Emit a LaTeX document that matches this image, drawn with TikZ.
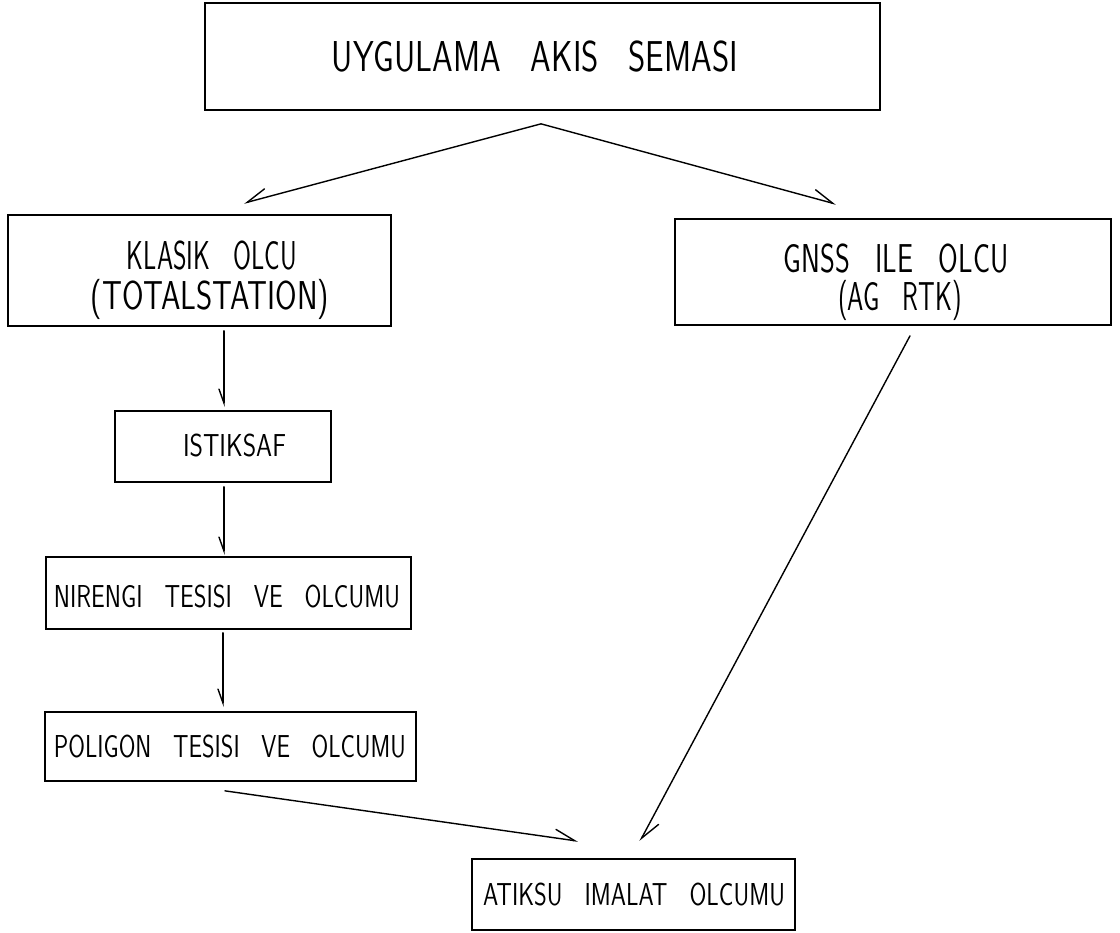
\documentclass[tikz,border=0pt]{standalone}
\usepackage{fontspec}
\usepackage{graphicx}
\usetikzlibrary{arrows.meta}
\newcommand\cadtxt[3]{\resizebox{#1pt}{\height}{\fontsize{#2pt}{#2pt}\selectfont\sffamily #3}}
\newcommand\wg{\hspace{0.9em}}
\begin{document}
\begin{tikzpicture}[x=1pt,y=-1pt,
  box/.style={draw,line width=1.7pt,inner sep=0pt},
  lbl/.style={anchor=base,inner sep=0pt},
  arr/.style={line width=1.4pt,line cap=round},
  bigL/.style={-{Straight Barb[left,length=20pt,width=17pt,line cap=round]}},
  bigR/.style={-{Straight Barb[right,length=20pt,width=17pt,line cap=round]}},
  smL/.style={-{Straight Barb[left,length=14pt,width=10pt,line cap=round]}},
  smR/.style={-{Straight Barb[right,length=14pt,width=10pt,line cap=round]}}]
\useasboundingbox[fill=white] (0,0) rectangle (1120,933);
% boxes
\node[box,minimum width=675pt,minimum height=107pt] (title) at (542.5,56.5) {};
\node[box,minimum width=383pt,minimum height=111pt] (klasik) at (199.5,270.5) {};
\node[box,minimum width=436pt,minimum height=106pt] (gnss) at (893,272) {};
\node[box,minimum width=216pt,minimum height=71pt] (istiksaf) at (223,446.5) {};
\node[box,minimum width=365pt,minimum height=72pt] (nirengi) at (228.5,593) {};
\node[box,minimum width=371pt,minimum height=69pt] (poligon) at (230.5,746.5) {};
\node[box,minimum width=323pt,minimum height=71pt] (atiksu) at (633.5,894.5) {};
% texts
\node[lbl] (titleT) at (535,72) {\cadtxt{406}{43.2}{UYGULAMA\wg AKIS\wg SEMASI}};
\node[lbl] (klasikA) at (212,270) {\cadtxt{170}{40.3}{KLASIK\wg OLCU}};
\node[lbl] (klasikB) at (210,310) {\cadtxt{238}{40.3}{(TOTALSTATION)}};
\node[lbl] (gnssA) at (896,273) {\cadtxt{225}{40.3}{GNSS\wg ILE\wg OLCU}};
\node[lbl] (gnssB) at (900,311) {\cadtxt{124}{40.3}{(AG\wg RTK)}};
\node[lbl] (istiksafT) at (234.5,456) {\cadtxt{103}{31.7}{ISTIKSAF}};
\node[lbl] (nirengiT) at (227,607) {\cadtxt{346}{31.7}{NIRENGI\wg TESISI\wg VE\wg OLCUMU}};
\node[lbl] (poligonT) at (230,757) {\cadtxt{352}{31.7}{POLIGON\wg TESISI\wg VE\wg OLCUMU}};
\node[lbl] (atiksuT) at (634,905) {\cadtxt{302}{31.7}{ATIKSU\wg IMALAT\wg OLCUMU}};
% connectors
\draw[arr,bigR] ([xshift=-1.5pt,yshift=-13pt]title.south) -- ([xshift=44.5pt,yshift=11pt]klasik.north);
\draw[arr,bigL] ([xshift=-1.5pt,yshift=-13pt]title.south) -- ([xshift=-57pt,yshift=14pt]gnss.north);
\draw[arr,smR] ([xshift=24.5pt,yshift=-4pt]klasik.south) -- ([xshift=1pt,yshift=3pt]istiksaf.north);
\draw[arr,smR] ([xshift=1pt,yshift=-4pt]istiksaf.south) -- ([xshift=-4.5pt,yshift=1pt]nirengi.north);
\draw[arr,smR] ([xshift=-5.5pt,yshift=-3pt]nirengi.south) -- ([xshift=-7.5pt,yshift=4pt]poligon.north);
\draw[arr,bigL] ([xshift=-5.5pt,yshift=-9pt]poligon.south) -- ([xshift=-55.5pt,yshift=17pt]atiksu.north);
\draw[arr,bigL] ([xshift=17pt,yshift=-10pt]gnss.south) -- ([xshift=6.5pt,yshift=17pt]atiksu.north);
\end{tikzpicture}
\end{document}
